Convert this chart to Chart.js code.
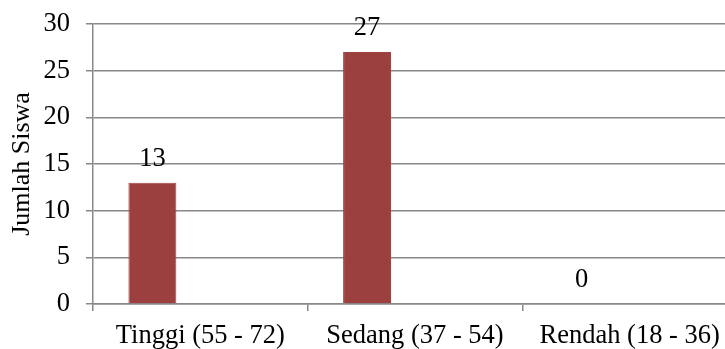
<!DOCTYPE html>
<html>
<head>
<meta charset="utf-8">
<script src="https://cdn.jsdelivr.net/npm/chart.js@4.4.1/dist/chart.umd.min.js"></script>
<style>
  html, body { margin: 0; padding: 0; background: #fff; overflow: hidden; }
  #wrap { width: 725px; height: 349px; overflow: hidden; position: relative; }
  #box { width: 745px; height: 349px; position: absolute; left: 0; top: 0; }
</style>
</head>
<body>
<div id="wrap"><div id="box"><canvas id="chart"></canvas></div></div>
<script>
// Kategori nilai dan jumlah siswa
const categories = ['Tinggi (55 - 72)', 'Sedang (37 - 54)', 'Rendah (18 - 36)'];
const jumlahSiswa = [13, 27, 0];
// Seri pendamping yang kosong (menjaga posisi batang dalam kelompok)
const seriKosong2 = [null, null, null];
const seriKosong3 = [null, null, null];
const yTicks = [0, 5, 10, 15, 20, 25, 30];

const FONT = "'Liberation Serif', 'Times New Roman', serif";
const GRID = '#888888';
const SIZE = 26.5;

const valueLabels = {
  id: 'valueLabels',
  afterDatasetsDraw(chart) {
    const ctx = chart.ctx;
    const meta = chart.getDatasetMeta(0);
    ctx.save();
    ctx.font = SIZE + 'px ' + FONT;
    ctx.fillStyle = '#000';
    ctx.textAlign = 'center';
    ctx.textBaseline = 'alphabetic';
    meta.data.forEach((bar, i) => {
      const v = jumlahSiswa[i];
      ctx.fillText(String(v), bar.x, bar.y - 17);
    });
    ctx.restore();
  }
};

new Chart(document.getElementById('chart'), {
  type: 'bar',
  data: {
    labels: categories,
    datasets: [
      { label: 'Jumlah Siswa', data: jumlahSiswa, backgroundColor: '#9c403f', borderColor: '#a04442', borderWidth: 1 },
      { label: '', data: seriKosong2 },
      { label: '', data: seriKosong3 }
    ]
  },
  options: {
    responsive: true,
    maintainAspectRatio: false,
    animation: false,
    categoryPercentage: 0.67,
    barPercentage: 1.0,
    layout: { padding: { top: 24, right: 8, left: 0, bottom: 0 } },
    plugins: { legend: { display: false }, tooltip: { enabled: false } },
    scales: {
      x: {
        grid: { drawOnChartArea: false, drawTicks: true, tickLength: 7, color: GRID, lineWidth: 1.5 },
        border: { display: true, color: GRID, width: 1.5 },
        ticks: { color: '#000', font: { family: FONT, size: SIZE }, padding: 9, maxRotation: 0 },
        afterFit(scale) { scale.height = 45; scale.paddingLeft = 0; scale.paddingRight = 0; }
      },
      y: {
        min: 0, max: 30,
        afterBuildTicks(scale) { scale.ticks = yTicks.map(v => ({ value: v })); },
        grid: { color: GRID, lineWidth: 1.5, tickLength: 7, drawTicks: true },
        border: { display: true, color: GRID, width: 1.5 },
        ticks: { color: '#000', font: { family: FONT, size: SIZE }, padding: 16 },
        title: { display: true, text: 'Jumlah Siswa', color: '#000', font: { family: FONT, size: 26 }, padding: { top: 7, bottom: 0 } },
        afterFit(scale) { scale.width = 93; scale.paddingTop = 0; scale.paddingBottom = 0; }
      }
    }
  },
  plugins: [valueLabels]
});
</script>
</body>
</html>
